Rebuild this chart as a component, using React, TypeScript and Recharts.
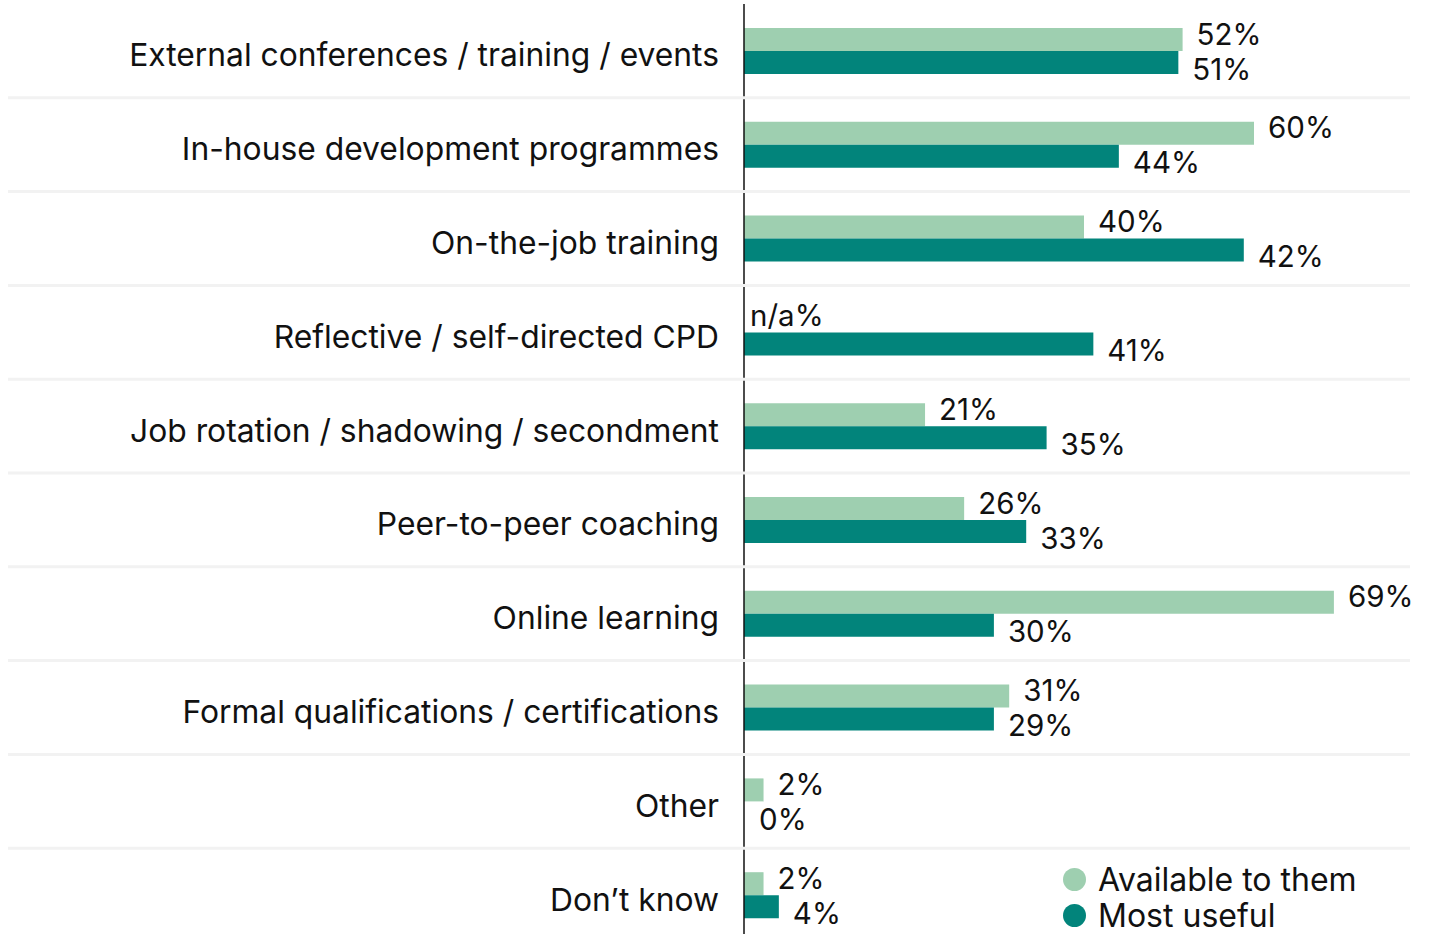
import React from 'react';
import { BarChart, Bar, XAxis, YAxis, LabelList, Legend, Cell } from 'recharts';

const categories = [
  'External conferences / training / events',
  'In-house development programmes',
  'On-the-job training',
  'Reflective / self-directed CPD',
  'Job rotation / shadowing / secondment',
  'Peer-to-peer coaching',
  'Online learning',
  'Formal qualifications / certifications',
  'Other',
  'Don\u2019t know',
];
const available: (number | null)[] = [51.6, 60, 40, null, 21.3, 25.9, 69.4, 31.2, 2.3, 2.3];
const mostUseful: number[] = [51.1, 44.1, 58.8, 41.1, 35.6, 33.2, 29.4, 29.4, 0, 4.1];
const availableLabels = ['52', '60', '40', 'n/a', '21', '26', '69', '31', '2', '2'];
const mostUsefulLabels = ['51', '44', '42', '41', '35', '33', '30', '29', '0', '4'];
const seriesNames = ['Available to them', 'Most useful'];
const seriesColors = ['#9ecfb0', '#02847b'];
const xDomain = [0, 78];

const FONT = 'Inter, "Noto Sans", sans-serif';
const W = 1429;
const H = 946;
const M_TOP = 4;
const M_BOTTOM = 4;
const Y_AXIS_W = 744;
const M_RIGHT = 22;
const BAND = (H - M_TOP - M_BOTTOM) / categories.length;

const data = categories.map((name, i) => ({
  name,
  available: available[i] ?? 0,
  mostUseful: mostUseful[i],
  availableLabel: availableLabels[i],
  mostUsefulLabel: mostUsefulLabels[i],
}));

const CategoryTick = (props: any) => {
  const { y, payload, index } = props;
  return (
    <g>
      <text
        x={Y_AXIS_W - 25}
        y={y + 4}
        textAnchor="end"
        dominantBaseline="central"
        fontSize={31.8}
        fontFamily={FONT}
        fill="#111"
      >
        {payload.value}
      </text>
      {index < categories.length - 1 && (
        <line x1={8} x2={1410} y1={y + BAND / 2} y2={y + BAND / 2} stroke="#f2f2f2" strokeWidth={3} />
      )}
    </g>
  );
};

const makeValueLabel = (dx: number, dy: number) => (props: any) => {
  const { x, y, width, height, value } = props;
  const w = Number(width) || 0;
  const gap = value === 'n/a' ? 6 - w : dx;
  return (
    <text
      x={Number(x) + w + gap}
      y={Number(y) + Number(height) / 2 + dy}
      dominantBaseline="central"
      fontSize={29.5}
      fontFamily={FONT}
      fill="#111"
    >
      {value}%
    </text>
  );
};

const LegendContent = () => (
  <div style={{ fontFamily: FONT, fontSize: 32, color: '#111' }}>
    {seriesNames.map((n, i) => (
      <div key={n} style={{ display: 'flex', alignItems: 'center', height: 36 }}>
        <span
          style={{
            display: 'inline-block',
            width: 23,
            height: 23,
            borderRadius: '50%',
            background: seriesColors[i],
            marginRight: 12,
          }}
        />
        <span>{n}</span>
      </div>
    ))}
  </div>
);

export default function App() {
  return (
    <div style={{ position: 'absolute', left: 0, top: 0, width: W, height: 934, overflow: 'hidden', background: '#fff' }}>
      <BarChart
        width={W}
        height={H}
        data={data}
        layout="vertical"
        margin={{ top: M_TOP, bottom: M_BOTTOM, left: 0, right: M_RIGHT }}
        barSize={23}
        barGap={0}
      >
        <XAxis type="number" domain={xDomain} hide />
        <YAxis
          type="category"
          dataKey="name"
          width={Y_AXIS_W}
          tickLine={false}
          axisLine={{ stroke: '#111', strokeWidth: 1.5 }}
          tick={<CategoryTick />}
          interval={0}
        />
        <Legend
          layout="vertical"
          align="center"
          verticalAlign="middle"
          wrapperStyle={{ position: 'absolute', left: 1063, top: 861, width: 366 }}
          content={<LegendContent />}
        />
        <Bar dataKey="available" name={seriesNames[0]} fill={seriesColors[0]} minPointSize={1} isAnimationActive={false}>
          {data.map((d, i) => (
            <Cell key={i} fill={d.available === 0 ? 'transparent' : seriesColors[0]} />
          ))}
          <LabelList dataKey="availableLabel" content={makeValueLabel(14, -6)} />
        </Bar>
        <Bar dataKey="mostUseful" name={seriesNames[1]} fill={seriesColors[1]} minPointSize={1} isAnimationActive={false}>
          {data.map((d, i) => (
            <Cell key={i} fill={d.mostUseful === 0 ? 'transparent' : seriesColors[1]} />
          ))}
          <LabelList dataKey="mostUsefulLabel" content={makeValueLabel(14, 6)} />
        </Bar>
      </BarChart>
    </div>
  );
}
